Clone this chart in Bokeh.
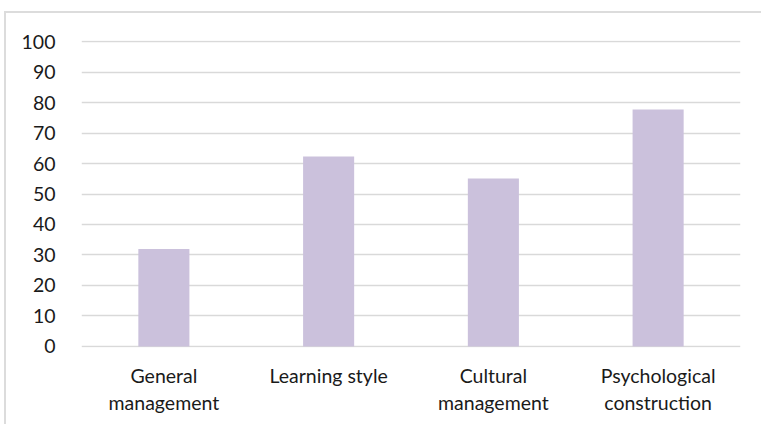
from bokeh.plotting import figure
from bokeh.models import FactorRange, Range1d, FixedTicker, ColumnDataSource
from bokeh.embed import file_html
from bokeh.resources import INLINE

categories = ["General\nmanagement", "Learning style", "Cultural\nmanagement", "Psychological\nconstruction"]
values = [32.0, 62.3, 55.1, 77.7]
y_ticks = [0, 10, 20, 30, 40, 50, 60, 70, 80, 90, 100]

FONT = "Lato"

source = ColumnDataSource(data=dict(cat=categories, val=values))

p = figure(
    width=761, height=424,
    x_range=FactorRange(*categories, range_padding=0),
    y_range=Range1d(-0.33, 100.33),
    output_backend="svg", toolbar_location=None,
    min_border_left=81, min_border_right=21, min_border_top=40, min_border_bottom=77,
    background_fill_color="white",
)
p.border_fill_color = None
p.border_fill_alpha = 0
p.styles = {
    "background-color": "white",
    "background-image": "linear-gradient(#dcdcdc, #dcdcdc), linear-gradient(#dcdcdc, #dcdcdc)",
    "background-size": "100% 2px, 2px 100%",
    "background-position": "5px 11px, 4px 11px",
    "background-repeat": "no-repeat",
}
p.outline_line_color = None

p.vbar(x="cat", top="val", width=0.31, source=source,
       fill_color="#CBC1DC", line_color=None)

p.xgrid.grid_line_color = None
p.ygrid.grid_line_color = "#d9d9d9"
p.ygrid.grid_line_width = 1.3
p.yaxis.ticker = FixedTicker(ticks=y_ticks)

for ax in (p.xaxis[0], p.yaxis[0]):
    ax.axis_line_color = None
    ax.major_tick_line_color = None
    ax.minor_tick_line_color = None
    ax.major_tick_out = 0
    ax.major_tick_in = 0
    ax.major_label_text_font = FONT
    ax.major_label_text_font_size = "19.5px"
    ax.major_label_text_color = "#1a1a1a"

p.yaxis.major_label_standoff = 26
p.xaxis.major_label_standoff = 16
p.xaxis.major_label_text_line_height = 1.2

open("out.html", "w").write(file_html(p, INLINE))
